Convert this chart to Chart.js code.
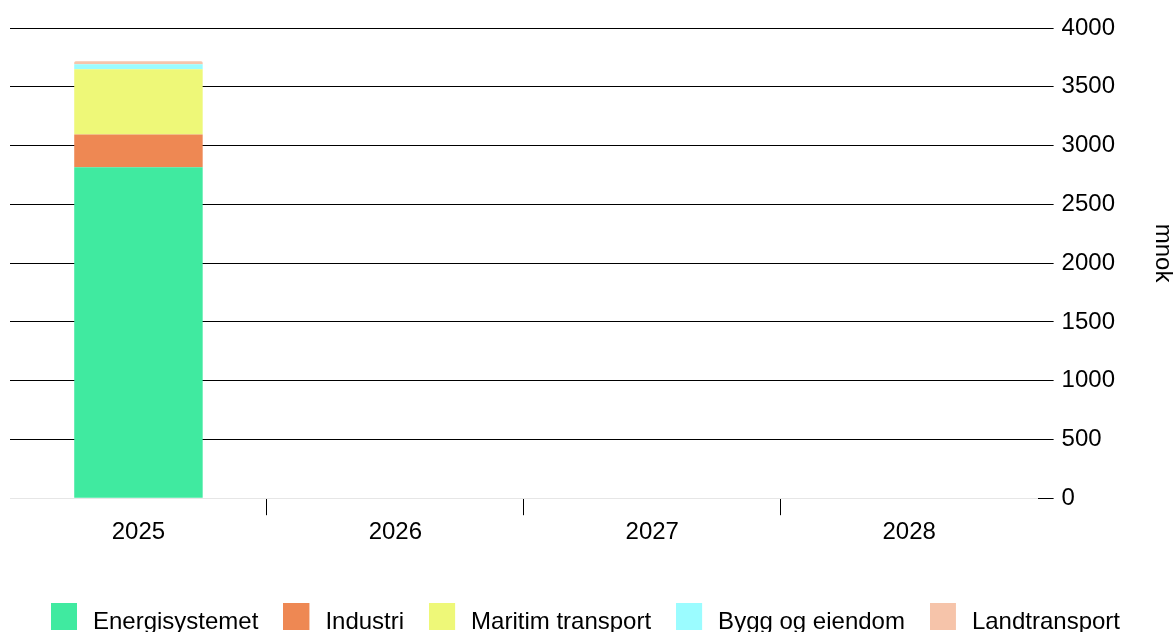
<!DOCTYPE html>
<html>
<head>
<meta charset="utf-8">
<script src="https://cdn.jsdelivr.net/npm/chart.js@4"></script>
<style>
  html, body { margin: 0; padding: 0; background: #fff; overflow: hidden; }
  #wrap { width: 1175px; height: 644px; position: relative; }
</style>
</head>
<body>
<div id="wrap"><canvas id="chart"></canvas></div>
<script>
const years = ['2025', '2026', '2027', '2028'];
const energisystemet = [2815, null, null, null];
const industri = [280, null, null, null];
const maritimTransport = [555, null, null, null];
const byggOgEiendom = [42, null, null, null];
const landtransport = [26, null, null, null];
const yTicks = [0, 500, 1000, 1500, 2000, 2500, 3000, 3500, 4000];

const font = { family: "'Liberation Sans', Arial, sans-serif", size: 24 };

const datasets = [
  { label: 'Energisystemet', data: energisystemet, backgroundColor: '#40eaa0' },
  { label: 'Industri', data: industri, backgroundColor: '#ee8853' },
  { label: 'Maritim transport', data: maritimTransport, backgroundColor: '#eef878' },
  { label: 'Bygg og eiendom', data: byggOgEiendom, backgroundColor: '#9bfcff' },
  { label: 'Landtransport', data: landtransport, backgroundColor: '#f6c4aa',
    borderRadius: { topLeft: 6, topRight: 6 }, borderSkipped: 'bottom' }
];

// fargeruten i legenden sitter litt høyere enn teksten
function swatch(color) {
  const c = document.createElement('canvas');
  c.width = 30;
  c.height = 46;
  const g = c.getContext('2d');
  g.fillStyle = color;
  g.fillRect(0, 4, 26, 27);
  return c;
}

// legenden står litt til venstre for midten
const shiftLegend = {
  id: 'shiftLegend',
  afterLayout(chart) {
    chart.legend.left -= 7;
    chart.legend.right -= 7;
  }
};

new Chart(document.getElementById('chart'), {
  type: 'bar',
  data: { labels: years, datasets },
  plugins: [shiftLegend],
  options: {
    responsive: true,
    maintainAspectRatio: false,
    animation: false,
    categoryPercentage: 1,
    barPercentage: 0.5,
    layout: { padding: { left: 10, top: 28, right: 0, bottom: 0 } },
    plugins: {
      tooltip: { enabled: false },
      legend: {
        position: 'bottom',
        labels: {
          usePointStyle: true,
          pointStyleWidth: 30,
          padding: 25,
          color: '#000',
          font,
          generateLabels: chart => chart.data.datasets.map((ds, i) => ({
            text: ds.label,
            fillStyle: ds.backgroundColor,
            strokeStyle: ds.backgroundColor,
            lineWidth: 0,
            pointStyle: swatch(ds.backgroundColor),
            hidden: !chart.isDatasetVisible(i),
            datasetIndex: i
          }))
        }
      }
    },
    scales: {
      x: {
        stacked: true,
        border: { display: false },
        grid: {
          drawOnChartArea: false,
          offset: true,
          tickLength: 17,
          tickColor: ctx => (ctx.index > 0 && ctx.index < years.length) ? '#000' : 'rgba(0,0,0,0)'
        },
        ticks: { color: '#000', font, padding: 3 },
        afterFit: axis => { axis.height += 35; }
      },
      y: {
        stacked: true,
        position: 'right',
        min: 0,
        max: 4000,
        afterBuildTicks: axis => { axis.ticks = yTicks.map(v => ({ value: v })); },
        border: { display: false },
        grid: {
          color: ctx => ctx.tick && ctx.tick.value === 0 ? '#e6e6e6' : '#000',
          tickColor: '#000',
          tickLength: 16
        },
        ticks: { color: '#000', font, padding: 8, callback: v => String(v) },
        title: {
          display: true,
          text: 'mnok   ',
          color: '#000',
          font: { ...font, lineHeight: 1 },
          padding: { top: 0, bottom: 28 }
        }
      }
    }
  }
});
</script>
</body>
</html>
